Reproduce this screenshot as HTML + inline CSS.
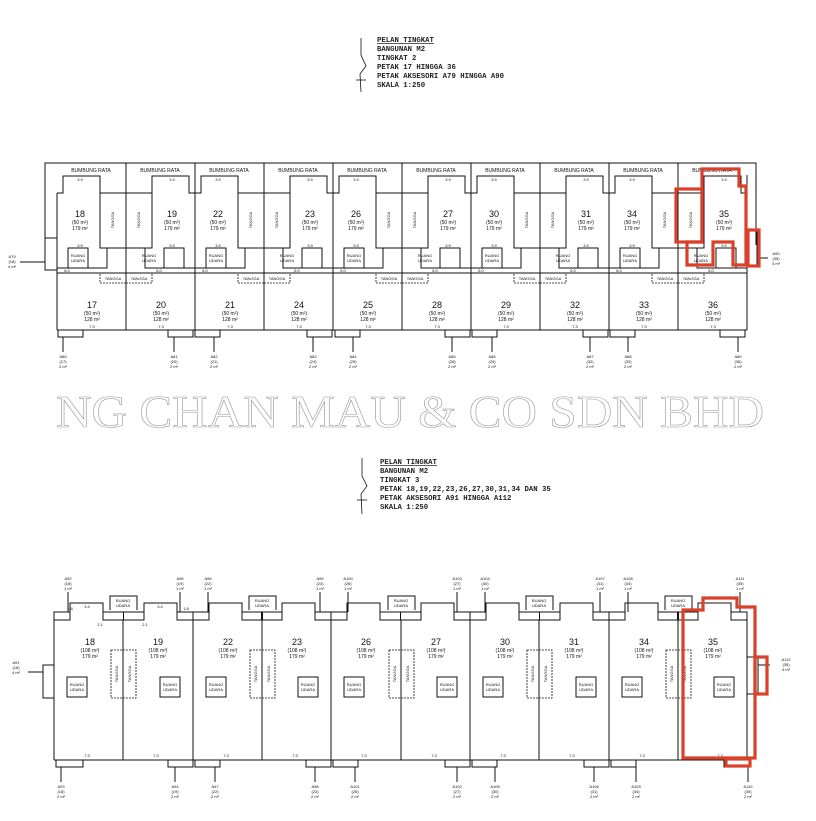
<!DOCTYPE html>
<html><head><meta charset="utf-8"><style>
html,body{margin:0;padding:0;background:#fff}
svg{display:block}
text{font-family:"Liberation Sans",sans-serif;fill:#111}
.h{font-family:"Liberation Mono",monospace;font-size:7.3px;font-weight:bold;fill:#222}
.d{font-size:4px}
.n{font-size:9px}
.s{font-size:5px}
.l{fill:none;stroke:#111;stroke-width:1}
.t{fill:none;stroke:#111;stroke-width:.8;stroke-dasharray:2 1}
.r{fill:none;stroke:#d9412b;stroke-width:3.2}
</style></head><body>
<svg width="816" height="821" viewBox="0 0 816 821" xmlns="http://www.w3.org/2000/svg">
<defs>
<g id="te">
<polyline class="l" points="0,193 6,193 6,176 43,176 43,193 69,193"/>
<rect class="l" x="43" y="193" width="26" height="55"/>
<rect class="l" x="11" y="248" width="20" height="20"/>
<polyline class="l" points="0,268 11,268"/>
<polyline class="l" points="31,268 50,268 50,248 69,248"/>
<rect class="t" x="43" y="273" width="26" height="10"/>
</g>
<g id="be">
<rect class="l" x="0" y="612" width="16" height="8"/>
<polyline class="l" points="16,612 16,603 49,603 49,612"/>
<rect class="l" x="49" y="612" width="20.5" height="8"/>
<rect class="l" x="13" y="677" width="20" height="20"/>
</g>
</defs>

<!-- HEADER 1 -->
<polyline class="l" points="361,38 361,55 366,66 360,74 361,92" style="stroke-width:.8"/>
<line class="l" x1="356" y1="80" x2="366" y2="80" style="stroke-width:.8"/>
<text class="h" x="377" y="42" text-decoration="underline">PELAN TINGKAT</text>
<text class="h" x="377" y="51">BANGUNAN M2</text>
<text class="h" x="377" y="60">TINGKAT 2</text>
<text class="h" x="377" y="69">PETAK 17 HINGGA 36</text>
<text class="h" x="377" y="78">PETAK AKSESORI A79 HINGGA A90</text>
<text class="h" x="377" y="87">SKALA  1:250</text>

<!-- TOP PLAN frame -->
<polyline class="l" points="45,270 45,163 756,163 756,245"/>
<line class="l" x1="57" y1="193" x2="57" y2="330"/>
<line class="l" x1="747" y1="175" x2="747" y2="330"/>
<line class="l" x1="57" y1="330" x2="747" y2="330"/>
<line class="l" x1="57" y1="273" x2="747" y2="273"/>
<rect class="l" x="45" y="238" width="12" height="32"/>
<line class="l" x1="20" y1="262" x2="45" y2="262"/>
<rect class="l" x="747" y="230" width="10" height="35"/>
<line class="l" x1="757" y1="258" x2="768" y2="258"/>
<g>
<line class="l" x1="126" y1="163" x2="126" y2="330"/><line class="l" x1="195" y1="163" x2="195" y2="330"/>
<line class="l" x1="264" y1="163" x2="264" y2="330"/><line class="l" x1="333" y1="163" x2="333" y2="330"/>
<line class="l" x1="402" y1="163" x2="402" y2="330"/><line class="l" x1="471" y1="163" x2="471" y2="330"/>
<line class="l" x1="540" y1="163" x2="540" y2="330"/><line class="l" x1="609" y1="163" x2="609" y2="330"/>
<line class="l" x1="678" y1="163" x2="678" y2="330"/>
</g>
<use href="#te" transform="translate(57,0)"/>
<use href="#te" transform="translate(195,0) scale(-1,1)"/>
<use href="#te" transform="translate(195,0)"/>
<use href="#te" transform="translate(333,0) scale(-1,1)"/>
<use href="#te" transform="translate(333,0)"/>
<use href="#te" transform="translate(471,0) scale(-1,1)"/>
<use href="#te" transform="translate(471,0)"/>
<use href="#te" transform="translate(609,0) scale(-1,1)"/>
<use href="#te" transform="translate(609,0)"/>
<use href="#te" transform="translate(747,0) scale(-1,1)"/>

<g class="s" text-anchor="middle">
<text x="91" y="172">BUMBUNG RATA</text><text x="160" y="172">BUMBUNG RATA</text><text x="229" y="172">BUMBUNG RATA</text><text x="298" y="172">BUMBUNG RATA</text><text x="367" y="172">BUMBUNG RATA</text><text x="436" y="172">BUMBUNG RATA</text><text x="505" y="172">BUMBUNG RATA</text><text x="574" y="172">BUMBUNG RATA</text><text x="643" y="172">BUMBUNG RATA</text><text x="712" y="172">BUMBUNG RATA</text>
</g>
<g text-anchor="middle">
<g class="n"><text x="80" y="217">18</text><text x="172" y="217">19</text><text x="218" y="217">22</text><text x="310" y="217">23</text><text x="356" y="217">26</text><text x="448" y="217">27</text><text x="494" y="217">30</text><text x="586" y="217">31</text><text x="632" y="217">34</text><text x="724" y="217">35</text></g>
<g class="s"><text x="80" y="224">(50 m²)</text><text x="172" y="224">(50 m²)</text><text x="218" y="224">(50 m²)</text><text x="310" y="224">(50 m²)</text><text x="356" y="224">(50 m²)</text><text x="448" y="224">(50 m²)</text><text x="494" y="224">(50 m²)</text><text x="586" y="224">(50 m²)</text><text x="632" y="224">(50 m²)</text><text x="724" y="224">(50 m²)</text>
<text x="80" y="230">179 m²</text><text x="172" y="230">179 m²</text><text x="218" y="230">179 m²</text><text x="310" y="230">179 m²</text><text x="356" y="230">179 m²</text><text x="448" y="230">179 m²</text><text x="494" y="230">179 m²</text><text x="586" y="230">179 m²</text><text x="632" y="230">179 m²</text><text x="724" y="230">179 m²</text></g>
<g class="n"><text x="92" y="308">17</text><text x="161" y="308">20</text><text x="230" y="308">21</text><text x="299" y="308">24</text><text x="368" y="308">25</text><text x="437" y="308">28</text><text x="506" y="308">29</text><text x="575" y="308">32</text><text x="644" y="308">33</text><text x="713" y="308">36</text></g>
<g class="s"><text x="92" y="315">(50 m²)</text><text x="161" y="315">(50 m²)</text><text x="230" y="315">(50 m²)</text><text x="299" y="315">(50 m²)</text><text x="368" y="315">(50 m²)</text><text x="437" y="315">(50 m²)</text><text x="506" y="315">(50 m²)</text><text x="575" y="315">(50 m²)</text><text x="644" y="315">(50 m²)</text><text x="713" y="315">(50 m²)</text>
<text x="92" y="321">128 m²</text><text x="161" y="321">128 m²</text><text x="230" y="321">128 m²</text><text x="299" y="321">128 m²</text><text x="368" y="321">128 m²</text><text x="437" y="321">128 m²</text><text x="506" y="321">128 m²</text><text x="575" y="321">128 m²</text><text x="644" y="321">128 m²</text><text x="713" y="321">128 m²</text></g>
<g class="d"><text x="78" y="257">RUANG</text><text x="78" y="262">UDARA</text><text x="149" y="257">RUANG</text><text x="149" y="262">UDARA</text><text x="216" y="257">RUANG</text><text x="216" y="262">UDARA</text><text x="287" y="257">RUANG</text><text x="287" y="262">UDARA</text><text x="354" y="257">RUANG</text><text x="354" y="262">UDARA</text><text x="425" y="257">RUANG</text><text x="425" y="262">UDARA</text><text x="492" y="257">RUANG</text><text x="492" y="262">UDARA</text><text x="563" y="257">RUANG</text><text x="563" y="262">UDARA</text><text x="630" y="257">RUANG</text><text x="630" y="262">UDARA</text><text x="701" y="257">RUANG</text><text x="701" y="262">UDARA</text>
<text x="113" y="280">TANGGA</text><text x="139" y="280">TANGGA</text><text x="251" y="280">TANGGA</text><text x="277" y="280">TANGGA</text><text x="389" y="280">TANGGA</text><text x="415" y="280">TANGGA</text><text x="527" y="280">TANGGA</text><text x="553" y="280">TANGGA</text><text x="665" y="280">TANGGA</text><text x="691" y="280">TANGGA</text></g>
</g>
<g class="d" text-anchor="middle">
<text transform="translate(114,220) rotate(-90)">TANGGA</text><text transform="translate(140,220) rotate(-90)">TANGGA</text><text transform="translate(252,220) rotate(-90)">TANGGA</text><text transform="translate(278,220) rotate(-90)">TANGGA</text><text transform="translate(390,220) rotate(-90)">TANGGA</text><text transform="translate(416,220) rotate(-90)">TANGGA</text><text transform="translate(528,220) rotate(-90)">TANGGA</text><text transform="translate(554,220) rotate(-90)">TANGGA</text><text transform="translate(666,220) rotate(-90)">TANGGA</text><text transform="translate(692,220) rotate(-90)">TANGGA</text>
</g>
<g class="d" text-anchor="middle">
<text x="80" y="181">3.9</text><text x="172" y="181">3.9</text><text x="218" y="181">3.9</text><text x="310" y="181">3.9</text><text x="356" y="181">3.9</text><text x="448" y="181">3.9</text><text x="494" y="181">3.9</text><text x="586" y="181">3.9</text><text x="632" y="181">3.9</text><text x="724" y="181">3.9</text>
<text x="92" y="328">7.3</text><text x="161" y="328">7.3</text><text x="230" y="328">7.3</text><text x="299" y="328">7.3</text><text x="368" y="328">7.3</text><text x="437" y="328">7.3</text><text x="506" y="328">7.3</text><text x="575" y="328">7.3</text><text x="644" y="328">7.3</text><text x="713" y="328">7.3</text>
<text x="80" y="247">3.9</text><text x="172" y="247">3.9</text><text x="218" y="247">3.9</text><text x="310" y="247">3.9</text><text x="356" y="247">3.9</text><text x="448" y="247">3.9</text><text x="494" y="247">3.9</text><text x="586" y="247">3.9</text><text x="632" y="247">3.9</text><text x="724" y="247">3.9</text>
<text x="67" y="272">6.0</text><text x="159" y="272">6.0</text><text x="205" y="272">6.0</text><text x="297" y="272">6.0</text><text x="343" y="272">6.0</text><text x="435" y="272">6.0</text><text x="481" y="272">6.0</text><text x="573" y="272">6.0</text><text x="619" y="272">6.0</text><text x="711" y="272">6.0</text>
</g>
<!-- top accessories -->
<g>
<rect class="l" x="58" y="330" width="25" height="7"/><rect class="l" x="168" y="330" width="25" height="7"/><rect class="l" x="195" y="330" width="25" height="7"/><rect class="l" x="307" y="330" width="25" height="7"/><rect class="l" x="335" y="330" width="25" height="7"/><rect class="l" x="445" y="330" width="25" height="7"/><rect class="l" x="472" y="330" width="25" height="7"/><rect class="l" x="583" y="330" width="25" height="7"/><rect class="l" x="610" y="330" width="25" height="7"/><rect class="l" x="720" y="330" width="25" height="7"/>
<line class="l" x1="63" y1="337" x2="63" y2="352"/><line class="l" x1="174" y1="337" x2="174" y2="352"/><line class="l" x1="214" y1="337" x2="214" y2="352"/><line class="l" x1="313" y1="337" x2="313" y2="352"/><line class="l" x1="353" y1="337" x2="353" y2="352"/><line class="l" x1="452" y1="337" x2="452" y2="352"/><line class="l" x1="492" y1="337" x2="492" y2="352"/><line class="l" x1="590" y1="337" x2="590" y2="352"/><line class="l" x1="628" y1="337" x2="628" y2="352"/><line class="l" x1="738" y1="337" x2="738" y2="352"/>
</g>
<g class="d" text-anchor="middle">
<text x="63" y="358">A80</text><text x="63" y="363">(17)</text><text x="63" y="368">2 m²</text>
<text x="174" y="358">A81</text><text x="174" y="363">(20)</text><text x="174" y="368">2 m²</text>
<text x="214" y="358">A82</text><text x="214" y="363">(21)</text><text x="214" y="368">2 m²</text>
<text x="313" y="358">A83</text><text x="313" y="363">(24)</text><text x="313" y="368">2 m²</text>
<text x="353" y="358">A84</text><text x="353" y="363">(25)</text><text x="353" y="368">2 m²</text>
<text x="452" y="358">A85</text><text x="452" y="363">(28)</text><text x="452" y="368">2 m²</text>
<text x="492" y="358">A86</text><text x="492" y="363">(29)</text><text x="492" y="368">2 m²</text>
<text x="590" y="358">A87</text><text x="590" y="363">(32)</text><text x="590" y="368">2 m²</text>
<text x="628" y="358">A88</text><text x="628" y="363">(33)</text><text x="628" y="368">2 m²</text>
<text x="738" y="358">A89</text><text x="738" y="363">(36)</text><text x="738" y="368">2 m²</text>
<text x="12" y="258">A79</text><text x="12" y="263">(18)</text><text x="12" y="268">4 m²</text>
<text x="776" y="255">A90</text><text x="776" y="260">(35)</text><text x="776" y="265">4 m²</text>
</g>
<!-- red highlight top -->
<path class="r" d="M702,169 H739 V186 H746 V265 H733 V242 H713 V265 H687 V242 H702 Z"/>
<rect class="r" x="676" y="189" width="26" height="53"/>
<rect class="r" x="748" y="230" width="11" height="36"/>

<!-- WATERMARK -->
<text x="410" y="427" text-anchor="middle" textLength="708" lengthAdjust="spacingAndGlyphs" style="font-family:'Liberation Serif',serif;font-size:46px;fill:#fff;stroke:#999;stroke-width:.6">NG CHAN MAU &amp; CO SDN BHD</text>

<!-- HEADER 2 -->
<polyline class="l" points="362,458 362,476 367,486 361,494 362,514" style="stroke-width:.8"/>
<line class="l" x1="357" y1="500" x2="367" y2="500" style="stroke-width:.8"/>
<text class="h" x="380" y="464" text-decoration="underline">PELAN TINGKAT</text>
<text class="h" x="380" y="473">BANGUNAN M2</text>
<text class="h" x="380" y="482">TINGKAT 3</text>
<text class="h" x="380" y="491">PETAK 18,19,22,23,26,27,30,31,34 DAN 35</text>
<text class="h" x="380" y="500">PETAK AKSESORI A91 HINGGA A112</text>
<text class="h" x="380" y="509">SKALA  1:250</text>

<!-- BOTTOM PLAN -->
<line class="l" x1="54" y1="612" x2="54" y2="760"/>
<line class="l" x1="747" y1="612" x2="747" y2="760"/>
<line class="l" x1="54" y1="760" x2="747" y2="760"/>
<g>
<line class="l" x1="123" y1="620" x2="123" y2="760"/><line class="l" x1="193" y1="612" x2="193" y2="760"/><line class="l" x1="262" y1="620" x2="262" y2="760"/><line class="l" x1="331" y1="612" x2="331" y2="760"/><line class="l" x1="401" y1="620" x2="401" y2="760"/><line class="l" x1="470" y1="612" x2="470" y2="760"/><line class="l" x1="539" y1="620" x2="539" y2="760"/><line class="l" x1="609" y1="612" x2="609" y2="760"/><line class="l" x1="678" y1="620" x2="678" y2="760"/>
</g>
<use href="#be" transform="translate(54,0)"/>
<use href="#be" transform="translate(193,0) scale(-1,1)"/>
<use href="#be" transform="translate(193,0)"/>
<use href="#be" transform="translate(331,0) scale(-1,1)"/>
<use href="#be" transform="translate(331,0)"/>
<use href="#be" transform="translate(470,0) scale(-1,1)"/>
<use href="#be" transform="translate(470,0)"/>
<use href="#be" transform="translate(609,0) scale(-1,1)"/>
<use href="#be" transform="translate(609,0)"/>
<use href="#be" transform="translate(747,0) scale(-1,1)"/>
<g>
<path class="l" d="M110,610 V596 H137 V610"/><path class="l" d="M249,610 V596 H276 V610"/><path class="l" d="M388,610 V596 H415 V610"/><path class="l" d="M526,610 V596 H553 V610"/><path class="l" d="M665,610 V596 H692 V610"/>
<rect class="t" x="111" y="650" width="25" height="48"/><rect class="t" x="250" y="650" width="25" height="48"/><rect class="t" x="389" y="650" width="25" height="48"/><rect class="t" x="527" y="650" width="25" height="48"/><rect class="t" x="666" y="650" width="25" height="48"/>
<rect class="l" x="43" y="665" width="11" height="33"/><line class="l" x1="28" y1="672" x2="43" y2="672"/>
<rect class="l" x="747" y="657" width="11" height="37"/><line class="l" x1="758" y1="665" x2="770" y2="665"/>
</g>
<g class="d" text-anchor="middle">
<text x="123" y="602">RUANG</text><text x="123" y="607">UDARA</text><text x="262" y="602">RUANG</text><text x="262" y="607">UDARA</text><text x="401" y="602">RUANG</text><text x="401" y="607">UDARA</text><text x="539" y="602">RUANG</text><text x="539" y="607">UDARA</text><text x="678" y="602">RUANG</text><text x="678" y="607">UDARA</text>
<text x="77" y="686">RUANG</text><text x="77" y="691">UDARA</text><text x="170" y="686">RUANG</text><text x="170" y="691">UDARA</text><text x="216" y="686">RUANG</text><text x="216" y="691">UDARA</text><text x="308" y="686">RUANG</text><text x="308" y="691">UDARA</text><text x="354" y="686">RUANG</text><text x="354" y="691">UDARA</text><text x="447" y="686">RUANG</text><text x="447" y="691">UDARA</text><text x="493" y="686">RUANG</text><text x="493" y="691">UDARA</text><text x="586" y="686">RUANG</text><text x="586" y="691">UDARA</text><text x="632" y="686">RUANG</text><text x="632" y="691">UDARA</text><text x="724" y="686">RUANG</text><text x="724" y="691">UDARA</text>
<text transform="translate(118,674) rotate(-90)">TANGGA</text><text transform="translate(131,674) rotate(-90)">TANGGA</text><text transform="translate(257,674) rotate(-90)">TANGGA</text><text transform="translate(270,674) rotate(-90)">TANGGA</text><text transform="translate(396,674) rotate(-90)">TANGGA</text><text transform="translate(409,674) rotate(-90)">TANGGA</text><text transform="translate(534,674) rotate(-90)">TANGGA</text><text transform="translate(547,674) rotate(-90)">TANGGA</text><text transform="translate(673,674) rotate(-90)">TANGGA</text><text transform="translate(686,674) rotate(-90)">TANGGA</text>
<text x="70" y="610">1.8</text><text x="87" y="608">3.4</text><text x="100" y="626">2.1</text><text x="145" y="626">2.1</text><text x="160" y="608">3.4</text><text x="186" y="610">1.8</text>
<text x="87" y="757">7.3</text><text x="156" y="757">7.3</text><text x="226" y="757">7.3</text><text x="295" y="757">7.3</text><text x="364" y="757">7.3</text><text x="434" y="757">7.3</text><text x="503" y="757">7.3</text><text x="572" y="757">7.3</text><text x="642" y="757">7.3</text><text x="720" y="757">7.3</text>
</g>
<g text-anchor="middle">
<g class="n"><text x="90" y="645">18</text><text x="158" y="645">19</text><text x="228" y="645">22</text><text x="297" y="645">23</text><text x="366" y="645">26</text><text x="436" y="645">27</text><text x="505" y="645">30</text><text x="574" y="645">31</text><text x="644" y="645">34</text><text x="713" y="645">35</text></g>
<g class="s"><text x="90" y="652">(108 m²)</text><text x="158" y="652">(108 m²)</text><text x="228" y="652">(108 m²)</text><text x="297" y="652">(108 m²)</text><text x="366" y="652">(108 m²)</text><text x="436" y="652">(108 m²)</text><text x="505" y="652">(108 m²)</text><text x="574" y="652">(108 m²)</text><text x="644" y="652">(108 m²)</text><text x="713" y="652">(108 m²)</text>
<text x="90" y="658">179 m²</text><text x="158" y="658">179 m²</text><text x="228" y="658">179 m²</text><text x="297" y="658">179 m²</text><text x="366" y="658">179 m²</text><text x="436" y="658">179 m²</text><text x="505" y="658">179 m²</text><text x="574" y="658">179 m²</text><text x="644" y="658">179 m²</text><text x="713" y="658">179 m²</text></g>
</g>
<!-- bottom accessories -->
<g>
<rect class="l" x="56" y="760" width="27" height="7"/><rect class="l" x="168" y="760" width="25" height="7"/><rect class="l" x="195" y="760" width="25" height="7"/><rect class="l" x="306" y="760" width="25" height="7"/><rect class="l" x="333" y="760" width="25" height="7"/><rect class="l" x="445" y="760" width="25" height="7"/><rect class="l" x="472" y="760" width="25" height="7"/><rect class="l" x="584" y="760" width="25" height="7"/><rect class="l" x="611" y="760" width="25" height="7"/><rect class="l" x="724" y="760" width="25" height="7"/>
<line class="l" x1="61" y1="767" x2="61" y2="782"/><line class="l" x1="175" y1="767" x2="175" y2="782"/><line class="l" x1="215" y1="767" x2="215" y2="782"/><line class="l" x1="315" y1="767" x2="315" y2="782"/><line class="l" x1="355" y1="767" x2="355" y2="782"/><line class="l" x1="457" y1="767" x2="457" y2="782"/><line class="l" x1="495" y1="767" x2="495" y2="782"/><line class="l" x1="594" y1="767" x2="594" y2="782"/><line class="l" x1="636" y1="767" x2="636" y2="782"/><line class="l" x1="748" y1="767" x2="748" y2="782"/>
<line class="l" x1="68" y1="592" x2="68" y2="612"/><line class="l" x1="180" y1="592" x2="180" y2="612"/><line class="l" x1="208" y1="592" x2="208" y2="612"/><line class="l" x1="320" y1="592" x2="320" y2="612"/><line class="l" x1="348" y1="592" x2="348" y2="612"/><line class="l" x1="457" y1="592" x2="457" y2="612"/><line class="l" x1="485" y1="592" x2="485" y2="612"/><line class="l" x1="600" y1="592" x2="600" y2="612"/><line class="l" x1="628" y1="592" x2="628" y2="612"/><line class="l" x1="740" y1="592" x2="740" y2="612"/>
</g>
<g class="d" text-anchor="middle">
<text x="68" y="580">A92</text><text x="68" y="585">(18)</text><text x="68" y="590">1 m²</text>
<text x="180" y="580">A95</text><text x="180" y="585">(19)</text><text x="180" y="590">1 m²</text>
<text x="208" y="580">A96</text><text x="208" y="585">(22)</text><text x="208" y="590">1 m²</text>
<text x="320" y="580">A99</text><text x="320" y="585">(23)</text><text x="320" y="590">1 m²</text>
<text x="348" y="580">A100</text><text x="348" y="585">(26)</text><text x="348" y="590">1 m²</text>
<text x="457" y="580">A103</text><text x="457" y="585">(27)</text><text x="457" y="590">1 m²</text>
<text x="485" y="580">A104</text><text x="485" y="585">(30)</text><text x="485" y="590">1 m²</text>
<text x="600" y="580">A107</text><text x="600" y="585">(31)</text><text x="600" y="590">1 m²</text>
<text x="628" y="580">A108</text><text x="628" y="585">(34)</text><text x="628" y="590">1 m²</text>
<text x="740" y="580">A111</text><text x="740" y="585">(35)</text><text x="740" y="590">1 m²</text>
<text x="16" y="664">A91</text><text x="16" y="669">(18)</text><text x="16" y="674">4 m²</text>
<text x="786" y="661">A112</text><text x="786" y="666">(35)</text><text x="786" y="671">4 m²</text>
<text x="61" y="788">A93</text><text x="61" y="793">(18)</text><text x="61" y="798">2 m²</text>
<text x="175" y="788">A94</text><text x="175" y="793">(19)</text><text x="175" y="798">2 m²</text>
<text x="215" y="788">A97</text><text x="215" y="793">(22)</text><text x="215" y="798">2 m²</text>
<text x="315" y="788">A98</text><text x="315" y="793">(23)</text><text x="315" y="798">2 m²</text>
<text x="355" y="788">A101</text><text x="355" y="793">(26)</text><text x="355" y="798">2 m²</text>
<text x="457" y="788">A102</text><text x="457" y="793">(27)</text><text x="457" y="798">2 m²</text>
<text x="495" y="788">A105</text><text x="495" y="793">(30)</text><text x="495" y="798">2 m²</text>
<text x="594" y="788">A106</text><text x="594" y="793">(31)</text><text x="594" y="798">2 m²</text>
<text x="636" y="788">A109</text><text x="636" y="793">(34)</text><text x="636" y="798">2 m²</text>
<text x="748" y="788">A110</text><text x="748" y="793">(35)</text><text x="748" y="798">2 m²</text>
</g>
<!-- red highlight bottom -->
<path class="r" d="M683,610 H703 V598 H737 V607 H755 V758 H683 Z"/>
<rect class="r" x="755" y="657" width="12" height="37"/>
<rect class="r" x="726" y="759" width="24" height="7"/>
</svg>
</body></html>
